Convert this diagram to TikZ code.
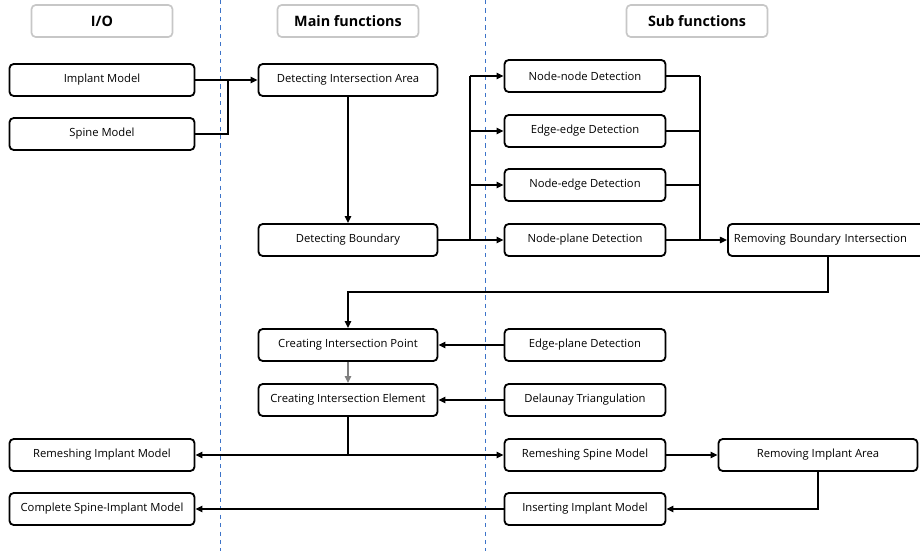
\documentclass[tikz,border=0pt]{standalone}
\usepackage{fontspec}
\setmainfont{Open Sans}
\usetikzlibrary{positioning, arrows.meta, calc}
\definecolor{sepblue}{RGB}{60,115,200}

\begin{document}
\begin{tikzpicture}[x=0.025cm, y=-0.025cm,
    blk/.style={draw, line width=1.3pt, rounded corners=3pt, minimum height=0.8cm, inner sep=0pt, font=\fontsize{8}{9}\selectfont},
    io/.style={blk, minimum width=4.625cm},
    mainf/.style={blk, minimum width=4.475cm},
    subf/.style={blk, minimum width=4.025cm},
    head/.style={draw=black!22, line width=1.2pt, rounded corners=3pt, minimum width=3.525cm, minimum height=0.8cm, inner sep=0pt, font=\bfseries\fontsize{10.2}{12}\selectfont},
    conn/.style={line width=1pt},
    arr/.style={conn, -{Triangle[length=5pt,width=4.5pt]}},
    sep/.style={draw=sepblue, dashed, line width=0.8pt}]
        \useasboundingbox (0,0) rectangle (920,551);

        % column headers and separators
        \node[head] (hio) at (102,21) {I/O};
        \node[head] (hmain) at (348,21) {Main functions};
        \node[head] (hsub) at (697,21) {Sub functions};
        \draw[sep] (220.5,0) -- (220.5,551);
        \draw[sep] (485.5,0) -- (485.5,551);

        % I/O
        \node[io] (impl) at (102,80) {Implant Model};
        \node[io] (spine) at (102,134) {Spine Model};
        \node[io] (rim) at (102,455) {Remeshing Implant Model};
        \node[io] (csim) at (102,509) {Complete Spine-Implant Model};

        % main functions
        \node[mainf] (dia) at (348,80) {Detecting Intersection Area};
        \node[mainf] (db) at (348,240) {Detecting Boundary};
        \node[mainf] (cip) at (348,345) {Creating Intersection Point};
        \node[mainf] (cie) at (348,400) {Creating Intersection Element};

        % sub functions
        \foreach \n/\y/\t in {nn/76/Node-node Detection, ee/131/Edge-edge Detection, ne/185/Node-edge Detection, np/240/Node-plane Detection} {
          \node[subf] (\n) at (585,\y) {\t};
        }
        \node[subf] (epd) at (585,345) {Edge-plane Detection};
        \node[subf] (dt) at (585,400) {Delaunay Triangulation};
        \node[subf] (rsm) at (585,455) {Remeshing Spine Model};
        \node[subf] (iim) at (585,509) {Inserting Implant Model};
        \node[blk, anchor=west, text width=5.05cm, inner xsep=0.15cm, align=left] (rbi) at (727,240) {Removing Boundary Intersection};
        \node[blk, minimum width=4.975cm] (ria) at (818,455) {Removing Implant Area};

        % connectors
        \coordinate (jin) at (228,80);
        \coordinate (tl) at (470,240);
        \coordinate (tr) at (700,240);
        \coordinate (drop) at (828,292);
        \draw[arr] (impl.east) -- (dia.west);
        \draw[conn] (spine.east) -| (jin);
        \draw[arr] (dia) -- (db);
        \draw[conn] (db.east) -- (tl) -- (tl |- nn.west);
        \draw[conn] (tr) -- (tr |- nn.east);
        \foreach \n in {nn, ee, ne, np} {
          \draw[arr] (tl |- \n.west) -- (\n.west);
          \draw[conn] (\n.east) -- (tr |- \n.east);
        }
        \draw[arr] (tr) -- (rbi.west);
        \draw[arr] (drop |- rbi.south) -- (drop) -| (cip.north);
        \draw[arr, gray] (cip) -- (cie);
        \draw[arr] (epd) -- (cip);
        \draw[arr] (dt) -- (cie);
        \draw[conn] (cie.south) -- (cie.south |- rim.east) coordinate (jout);
        \draw[arr] (jout) -- (rim.east);
        \draw[arr] (jout) -- (rsm.west);
        \draw[arr] (rsm) -- (ria);
        \draw[arr] (ria.south) |- (iim.east);
        \draw[arr] (iim) -- (csim);
      \end{tikzpicture}
\end{document}
